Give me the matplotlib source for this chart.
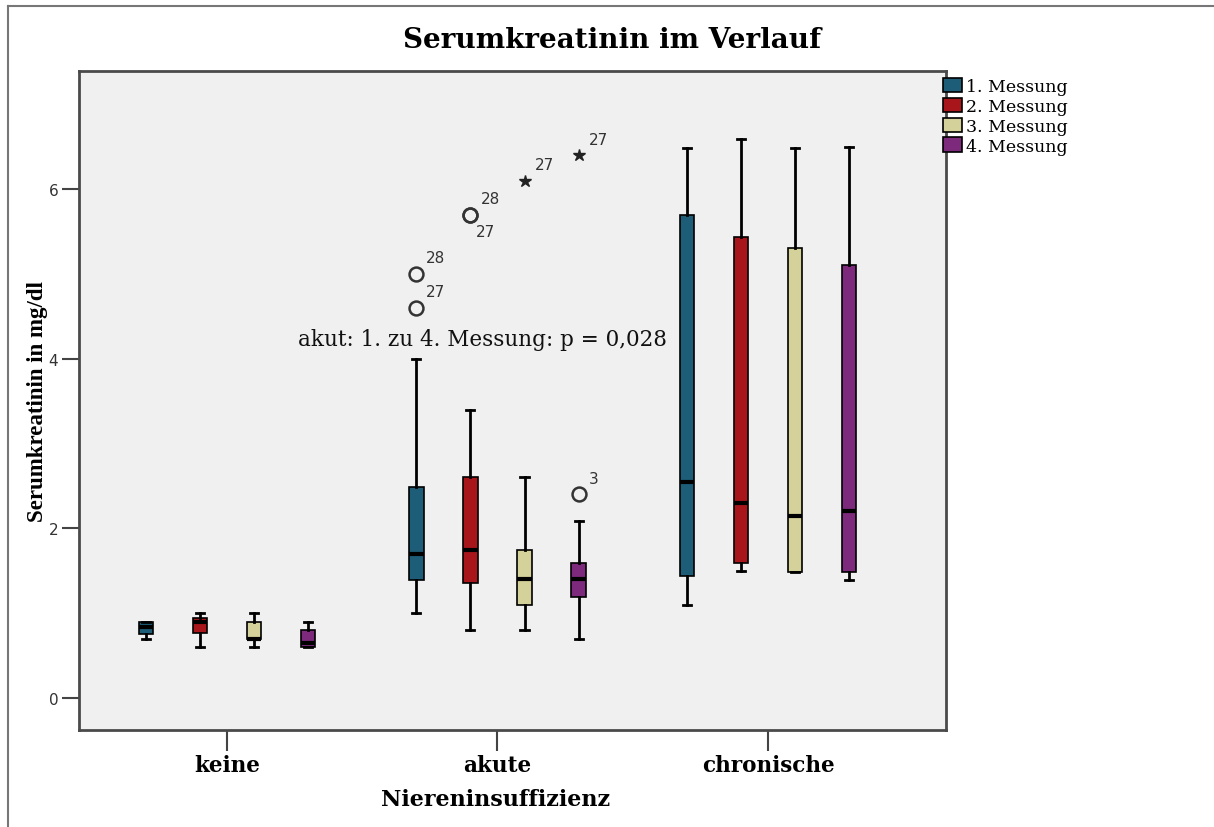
import matplotlib
matplotlib.use("Agg")
import matplotlib.pyplot as plt
from matplotlib.patches import Patch
from matplotlib.lines import Line2D

# groups on the x axis and the four repeated measurements
groups = ["keine", "akute", "chronische"]
series = ["1. Messung", "2. Messung", "3. Messung", "4. Messung"]
colors = ["#1d5d78", "#a8161c", "#d5d19a", "#7d2a7d"]

# box statistics, one row per measurement, one value per group (mg/dl)
whislo = [[0.70, 1.00, 1.10], [0.60, 0.80, 1.50], [0.60, 0.80, 1.49], [0.60, 0.70, 1.39]]
q1 = [[0.75, 1.39, 1.44], [0.76, 1.36, 1.59], [0.69, 1.10, 1.49], [0.60, 1.19, 1.49]]
med = [[0.84, 1.70, 2.55], [0.90, 1.75, 2.30], [0.70, 1.40, 2.15], [0.65, 1.40, 2.20]]
q3 = [[0.89, 2.49, 5.69], [0.94, 2.60, 5.44], [0.90, 1.75, 5.30], [0.80, 1.59, 5.10]]
whishi = [[0.89, 4.00, 6.49], [1.00, 3.39, 6.59], [1.00, 2.60, 6.49], [0.90, 2.09, 6.50]]

# outliers (circle) and extreme values (star) with case numbers
out_group = [1, 1, 1, 1, 1, 1, 1]
out_series = [0, 0, 1, 1, 2, 3, 3]
out_value = [4.6, 5.0, 5.7, 5.7, 6.1, 6.4, 2.4]
out_case = ["27", "28", "28", "27", "27", "27", "3"]
out_extreme = [False, False, False, False, True, True, False]

annotation = "akut: 1. zu 4. Messung: p = 0,028"

offsets = [-0.3, -0.1, 0.1, 0.3]
serif = "DejaVu Serif"

fig = plt.figure(figsize=(12.14, 8.28), dpi=100)
ax = fig.add_axes([79 / 1214, 1 - 731 / 828, (946 - 79) / 1214, (731 - 72) / 828])
ax.set_facecolor("#f0f0f0")

for s in range(len(series)):
    stats = []
    pos = []
    for g in range(len(groups)):
        stats.append(dict(whislo=whislo[s][g], q1=q1[s][g], med=med[s][g],
                          q3=q3[s][g], whishi=whishi[s][g], fliers=[]))
        pos.append(g + offsets[s])
    ax.bxp(stats, positions=pos, widths=0.054, capwidths=0.03,
           patch_artist=True, showfliers=False, manage_ticks=False,
           boxprops=dict(facecolor=colors[s], edgecolor="black", linewidth=1.2),
           medianprops=dict(color="black", linewidth=3, solid_capstyle="butt"),
           whiskerprops=dict(color="black", linewidth=2),
           capprops=dict(color="black", linewidth=2))

# outlier markers and their case labels
seen = {}
for g, s, v, case, ext in zip(out_group, out_series, out_value, out_case, out_extreme):
    x = g + offsets[s]
    if ext:
        ax.plot(x, v, marker="*", markersize=9, color="#222222", linestyle="none")
    else:
        ax.plot(x, v, marker="o", markersize=10, markerfacecolor="none",
                markeredgecolor="#333333", markeredgewidth=1.8, linestyle="none")
    key = (g, s, v)
    below = key in seen
    seen[key] = True
    if below:
        xy_off = (5, -17)
    else:
        xy_off = (10, 16)
    ax.annotate(case, (x, v), xytext=xy_off, textcoords="offset pixels",
                ha="left", va="center", fontsize=11, color="#333333",
                family="DejaVu Sans")

ax.text(0.262, 4.23, annotation, ha="left", va="center", fontsize=15.5,
        family=serif, color="#111111")

ax.set_xlim(-0.547, 2.658)
ax.set_ylim(-0.378, 7.393)
ax.set_xticks(range(len(groups)))
ax.set_xticklabels(groups, family=serif, fontweight="bold", fontsize=15.5)
ax.set_yticks([0, 2, 4, 6])
ax.set_yticklabels(["0", "2", "4", "6"], family="DejaVu Sans", fontsize=11,
                   color="#333333")
ax.tick_params(axis="x", length=15, width=1.5, color="#444444", pad=2)
ax.tick_params(axis="y", length=12, width=1.5, color="#444444", pad=3)
for sp in ax.spines.values():
    sp.set_color("#4a4a4a")
    sp.set_linewidth(2)

ax.set_xlabel("Niereninsuffizienz", family=serif, fontweight="bold",
              fontsize=16)
ax.xaxis.set_label_coords((496 - 79) / 867, -(800 - 731) / 659)
ax.set_ylabel("Serumkreatinin in mg/dl", family="Liberation Serif",
              fontweight="bold", fontsize=16.5)
ax.yaxis.set_label_coords(-(79 - 38) / 867, (731 - 402) / 659)
ax.xaxis.label.set_verticalalignment("center")
ax.yaxis.label.set_verticalalignment("center")
fig.text(612 / 1214, 1 - 41 / 828, "Serumkreatinin im Verlauf", ha="center",
         va="center", family=serif, fontweight="bold", fontsize=20)

handles = [Patch(facecolor=c, edgecolor="black", linewidth=1.2) for c in colors]
fig.legend(handles, series, loc="upper left",
           bbox_to_anchor=(943 / 1214, 1 - 79 / 828), frameon=False,
           prop=dict(family=serif, size=12.5), handlelength=1.1,
           handleheight=0.9, handletextpad=0.2, labelspacing=0.15,
           borderpad=0, borderaxespad=0)

# outer frame around the chart
fig.add_artist(Line2D([8 / 1214, 8 / 1214], [0, 1 - 7 / 828], color="#777777",
                      linewidth=1.5, transform=fig.transFigure))
fig.add_artist(Line2D([8 / 1214, 1], [1 - 7 / 828, 1 - 7 / 828], color="#777777",
                      linewidth=1.5, transform=fig.transFigure))

fig.savefig("out.png", dpi=100, facecolor="white")
